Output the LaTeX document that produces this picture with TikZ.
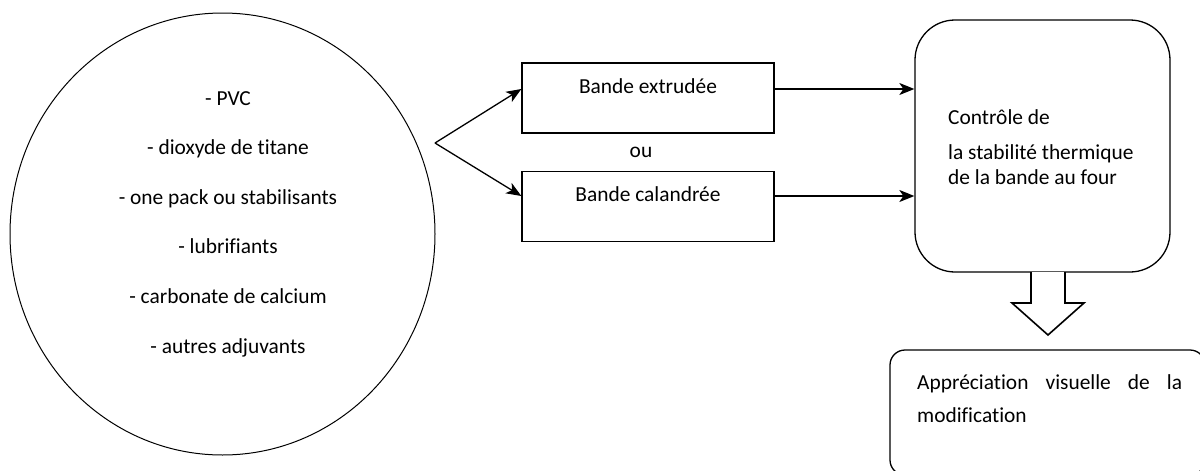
\documentclass[tikz,border=0pt]{standalone}
\usepackage{fontspec}
\setmainfont{Carlito}[Ligatures=NoCommon]
\usetikzlibrary{arrows.meta,calc,shapes.geometric}
\tikzset{
  x=1pt,y=-1pt,
  txt/.style={font=\fontsize{21.4}{25}\selectfont, inner sep=0pt},
  bandbox/.style={draw, line width=1.3pt, minimum width=252pt, minimum height=70pt, align=center, font=\fontsize{21.4}{24}\selectfont},
  conn/.style={line width=1.3pt, -{Stealth[length=15pt,width=12pt,inset=4pt]}},
}
\begin{document}
\begin{tikzpicture}
\clip (0,0) rectangle (1200,471);
\fill[white] (0,0) rectangle (1200,471);
% ingredients
\node[draw, ellipse, line width=1pt, minimum width=425pt, minimum height=442pt, inner sep=0pt] (mix) at (222.5,234) {};
\node[txt, align=center, font=\fontsize{21.4}{49.6}\selectfont] (mixtext) at (228,224)
  {- PVC\\- dioxyde de titane\\- one pack ou stabilisants\\- lubrifiants\\- carbonate de calcium\\- autres adjuvants};
% bands
\node[bandbox] (ext) at (648,98) {Bande extrudée\\\mbox{}};
\node[bandbox] (cal) at (648,206.5) {Bande calandrée\\\mbox{}};
\node[txt] (ou) at (641,152) {ou};
% control
\node[draw, line width=1.3pt, rounded corners=40pt, minimum width=255pt, minimum height=252pt] (ctrl) at (1042.5,146) {};
\node[txt, align=left, anchor=west] (ctrltext) at (948,147)
  {Contrôle de\\[10pt]la stabilité thermique\\de la bande au four};
% appreciation
\node[draw, line width=1.3pt, rounded corners=15pt, minimum width=315pt, minimum height=125pt] (appr) at (1047.5,412.5) {};
\node[txt, anchor=north west, text width=265pt, align=justify, font=\fontsize{21.4}{33}\selectfont] (apprtext) at (917,374)
  {Appréciation visuelle de la modification};
% connectors
\coordinate (fork) at (435,143);
\draw[conn] (fork) -- ([yshift=9pt]ext.west);
\draw[conn] (fork) -- ([yshift=10.5pt]cal.west);
\draw[conn] ([yshift=9pt]ext.east) -- ([yshift=9pt]ext.east -| ctrl.west);
\draw[conn] ([yshift=10.5pt]cal.east) -- ([yshift=10.5pt]cal.east -| ctrl.west);
% block arrow
\draw[line width=1.6pt, fill=white, line join=miter]
  (1031,272) -- (1031,303) -- (1012,303) -- (1048,335) -- (1084,303) -- (1065,303) -- (1065,272);
\end{tikzpicture}
\end{document}
